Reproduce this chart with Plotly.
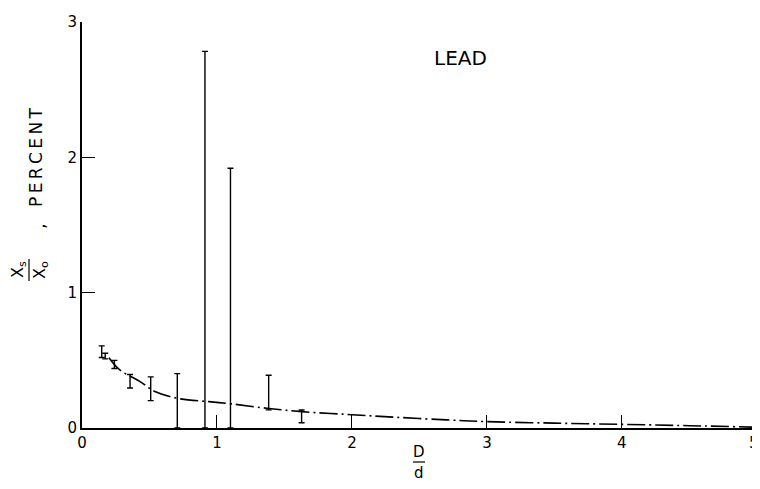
import plotly.graph_objects as go

# Error-bar measurements (D/d, centre value, half-range), percent
bar_x = [0.146, 0.172, 0.24, 0.356, 0.509, 0.706, 0.911, 1.10, 1.383, 1.627]
bar_y = [0.564, 0.532, 0.470, 0.346, 0.290, 0.201, 1.392, 0.960, 0.262, 0.086]
bar_err = [0.043, 0.021, 0.030, 0.050, 0.088, 0.201, 1.392, 0.960, 0.128, 0.047]

# Smooth fitted curve
curve_x = [0.2, 0.28, 0.43, 0.54, 0.73, 0.94, 1.11, 1.37, 1.63, 2.0, 2.33, 2.7, 3.0, 3.5, 4.0, 4.5, 5.0]
curve_y = [0.52, 0.43, 0.343, 0.27, 0.215, 0.195, 0.178, 0.146, 0.121, 0.098, 0.079, 0.06, 0.047, 0.036, 0.027, 0.017, 0.006]

x_ticks = [0, 1, 2, 3, 4, 5]
y_ticks = [0, 1, 2, 3]

FONT = "DejaVu Sans"
# page body has an 8px margin, so the figure is drawn 8px in from the window edge
OFF = 8
W, H = 760 - OFF, 489 - OFF
# plot area in window pixels
X0, X1, Y0, Y1 = 82, 757, 428, 22
ML, MR, MT, MB = X0 - OFF, W - (X1 - OFF), Y1 - OFF, H - (Y0 - OFF)


def px(xs):
    return (xs - X0) / (X1 - X0)


def py(ys):
    return (Y0 - ys) / (Y0 - Y1)


fig = go.Figure()

fig.add_trace(go.Scatter(
    x=curve_x, y=curve_y, mode="lines",
    line=dict(color="black", width=1.6, dash="18px,4px,2px,4px", shape="spline"),
    hoverinfo="skip", showlegend=False,
))

fig.add_trace(go.Scatter(
    x=bar_x, y=bar_y, mode="markers",
    marker=dict(size=1, color="rgba(0,0,0,0)"),
    error_y=dict(type="data", array=bar_err, symmetric=True,
                 color="black", thickness=1.4, width=3),
    showlegend=False,
))

axis_common = dict(
    showgrid=False, zeroline=False, showline=True, linecolor="black", linewidth=2,
    ticks="inside", ticklen=13, tickwidth=1, tickcolor="black", automargin=False,
    ticklabeloverflow="allow",
    tickfont=dict(family=FONT, size=15, color="black"),
)

# last x label sits at the page edge; it is drawn separately, nudged inward
x_ticktext = [str(v) for v in x_ticks[:-1]] + [""]
fig.update_xaxes(range=[0, 5.001], tickvals=x_ticks, ticktext=x_ticktext, **axis_common)
fig.update_yaxes(range=[0, 3.001], tickvals=y_ticks, ticktext=[str(v) for v in y_ticks],
                 **axis_common)


def note(xs, ys, text, size, angle=0):
    return dict(x=px(xs), y=py(ys), xref="paper", yref="paper", text=text,
                xanchor="center", yanchor="middle", textangle=angle, showarrow=False,
                font=dict(family=FONT, size=size, color="black"))


ann = [
    dict(x=x_ticks[-1], y=py(443), xref="x", yref="paper", text=str(x_ticks[-1]),
         xanchor="center", yanchor="middle", xshift=-3, showarrow=False,
         font=dict(family=FONT, size=15, color="black")),
    note(460, 58, "LEAD", 20),
    # x-axis title D/d
    note(419, 452, "D", 15),
    note(419, 473, "d", 15),
    # y-axis title Xs/Xo , PERCENT (rotated)
    note(18, 270, "X<sub>s</sub>", 16, -90),
    note(40, 270, "X<sub>o</sub>", 16, -90),
    note(38, 226, ",", 18, -90),
    note(36, 157, "P\u2009E\u2009R\u2009C\u2009E\u2009N\u2009T", 17, -90),
]

shapes = [
    dict(type="line", xref="paper", yref="paper", x0=px(413), x1=px(425), y0=py(462), y1=py(462),
         line=dict(color="black", width=1.2)),
    dict(type="line", xref="paper", yref="paper", x0=px(29), x1=px(29), y0=py(259), y1=py(281),
         line=dict(color="black", width=1.2)),
]

fig.update_layout(
    width=W, height=H,
    margin=dict(l=ML, r=MR, t=MT, b=MB, autoexpand=False),
    paper_bgcolor="white", plot_bgcolor="white",
    annotations=ann, shapes=shapes,
    font=dict(family=FONT, color="black"),
)

fig.write_html("out.html")
